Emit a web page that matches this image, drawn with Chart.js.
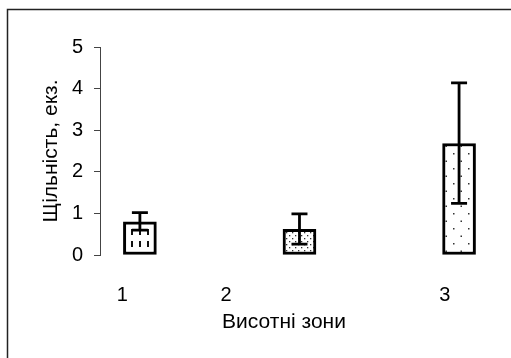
<!DOCTYPE html>
<html>
<head>
<meta charset="utf-8">
<script src="https://cdn.jsdelivr.net/npm/chart.js@4/dist/chart.umd.min.js"></script>
<style>
  html, body { margin: 0; padding: 0; background: #fff; }
  #wrap { position: relative; width: 511px; height: 358px; }
</style>
</head>
<body>
<div id="wrap"><canvas id="c" width="511" height="358"></canvas></div>
<script>
// ---- data ----
const categories = ['1', '2', '3'];           // x tick labels
const labelPos   = [0.89, 1.54, 2.91];        // where those labels sit on the x axis
const barPos     = [1, 2, 3];                 // bar positions on the x axis
const means      = [0.80, 0.62, 2.68];        // bar heights
const errLow     = [0.60, 0.26, 1.24];        // lower end of the error bars
const errHigh    = [1.02, 0.99, 4.14];        // upper end of the error bars
const yTicks     = [0, 1, 2, 3, 4, 5];
const xTitle     = 'Висотні зони';
const yTitle     = 'Щільність, екз.';

const FONT = "'Liberation Sans', Arial, sans-serif";
const canvas = document.getElementById('c');
const ctx = canvas.getContext('2d');

function makePattern(w, h, draw) {
  const c = document.createElement('canvas');
  c.width = w; c.height = h;
  const g = c.getContext('2d');
  g.fillStyle = '#fff'; g.fillRect(0, 0, w, h);
  draw(g);
  return ctx.createPattern(c, 'repeat');
}
const patDashes = makePattern(8, 12, g => {
  g.fillStyle = '#111';
  g.fillRect(3, 1, 2, 6);
});
const patDense = makePattern(6, 6, g => {
  g.fillStyle = '#333';
  g.fillRect(1, 1, 1.3, 1.3);
  g.fillRect(4, 4, 1.3, 1.3);
});
const patSparse = makePattern(15, 15, g => {
  g.fillStyle = '#333';
  g.fillRect(3, 3, 1.5, 1.5);
  g.fillRect(10.5, 10.5, 1.5, 1.5);
});

const framePlugin = {
  id: 'frame',
  beforeDraw(chart) {
    const c = chart.ctx;
    c.save();
    c.strokeStyle = '#222';
    c.lineWidth = 1.5;
    c.beginPath();
    c.moveTo(7.5, 600);
    c.lineTo(7.5, 9.5);
    c.lineTo(600, 9.5);
    c.stroke();
    c.restore();
  }
};

const errorBars = {
  id: 'errorBars',
  afterDatasetsDraw(chart) {
    const c = chart.ctx;
    const xs = chart.scales.x, ys = chart.scales.y;
    c.save();
    c.strokeStyle = '#000';
    c.lineWidth = 2.8;
    c.lineCap = 'butt';
    barPos.forEach((p, i) => {
      const x = xs.getPixelForValue(p);
      const yl = ys.getPixelForValue(errLow[i]);
      const yh = ys.getPixelForValue(errHigh[i]);
      const hw = 8;
      c.beginPath();
      c.moveTo(x, yl); c.lineTo(x, yh);
      c.moveTo(x - hw, yh); c.lineTo(x + hw, yh);
      c.moveTo(x - hw, yl); c.lineTo(x + hw, yl);
      c.stroke();
    });
    c.restore();
  }
};

new Chart(ctx, {
  type: 'bar',
  data: {
    datasets: [{
      data: barPos.map((x, i) => ({ x: x, y: means[i] })),
      backgroundColor: [patDashes, patDense, patSparse],
      borderColor: '#000',
      borderWidth: 3,
      borderSkipped: false,
      barThickness: 33,
      clip: false
    }]
  },
  options: {
    responsive: false,
    animation: false,
    devicePixelRatio: 1,
    layout: { padding: { left: 0, top: 47, right: 43, bottom: 0 } },
    plugins: { legend: { display: false }, tooltip: { enabled: false } },
    scales: {
      x: {
        type: 'linear',
        min: 0.75, max: 3.056,
        offset: false,
        grid: { display: false },
        border: { display: false },
        afterBuildTicks: s => { s.ticks = labelPos.map(v => ({ value: v })); },
        ticks: {
          autoSkip: false, maxRotation: 0,
          callback: (v, i) => categories[i],
          padding: 20,
          color: '#000',
          font: { family: FONT, size: 20 }
        },
        title: {
          display: true, text: xTitle, color: '#000',
          font: { family: FONT, size: 21 },
          padding: { top: 0, bottom: 23 }
        },
        afterFit: s => { s.height = 103; }
      },
      y: {
        min: 0, max: 5,
        afterBuildTicks: s => { s.ticks = yTicks.map(v => ({ value: v })); },
        ticks: { padding: 11, color: '#000', font: { family: FONT, size: 20 } },
        grid: { drawOnChartArea: false, drawTicks: true, tickLength: 6, color: '#444', lineWidth: 1 },
        border: { display: true, color: '#444', width: 1 },
        title: {
          display: true, text: yTitle, color: '#000',
          font: { family: FONT, size: 21 },
          padding: { top: 39, bottom: 0 }
        },
        afterFit: s => { s.width = 100; }
      }
    }
  },
  plugins: [framePlugin, errorBars]
});
</script>
</body>
</html>
